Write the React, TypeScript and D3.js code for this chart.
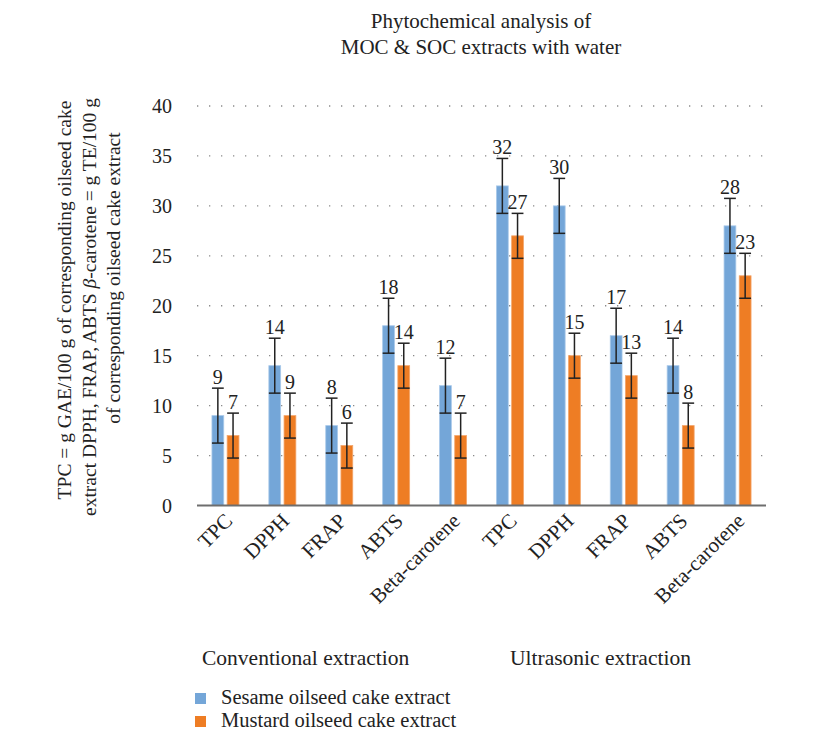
import React from "react";
import * as d3 from "d3";

const categories = ["TPC", "DPPH", "FRAP", "ABTS", "Beta-carotene", "TPC", "DPPH", "FRAP", "ABTS", "Beta-carotene"];
const sesame = [9, 14, 8, 18, 12, 32, 30, 17, 14, 28];
const mustard = [7, 9, 6, 14, 7, 27, 15, 13, 8, 23];
const sesameErr = [2.75, 2.75, 2.75, 2.75, 2.75, 2.75, 2.75, 2.75, 2.75, 2.75];
const mustardErr = [2.25, 2.25, 2.25, 2.25, 2.25, 2.25, 2.25, 2.25, 2.25, 2.25];
const yTicks = [0, 5, 10, 15, 20, 25, 30, 35, 40];
const groupLabels = ["Conventional extraction", "Ultrasonic extraction"];
const seriesNames = ["Sesame oilseed cake extract", "Mustard oilseed cake extract"];

const BLUE = "#74a6d8";
const ORANGE = "#ee7d24";
const FONT = "'Liberation Serif', 'Times New Roman', serif";

export default function App() {
  const W = 833, H = 731;
  const x0 = 197, x1 = 766;
  const y = d3.scaleLinear().domain([0, 40]).range([505.5, 106]);
  const x = d3.scaleBand<number>().domain(categories.map((_, i) => i)).range([x0, x1]).padding(0);
  const bw = 11.8;
  const gap = 3.4;

  const series = [
    { vals: sesame, errs: sesameErr, color: BLUE, stroke: "#a9c9ea", off: -gap / 2 - bw },
    { vals: mustard, errs: mustardErr, color: ORANGE, stroke: "#f3a56a", off: gap / 2 },
  ];

  return (
    <svg width={W} height={H} style={{ position: "absolute", left: 0, top: 0, background: "#fff" }} fontFamily={FONT}>
      <rect x={0} y={0} width={W} height={H} fill="#fff" />
      {/* title */}
      <text x={481} y={28} textAnchor="middle" fontSize={21} fill="#222">Phytochemical analysis of</text>
      <text x={481} y={54} textAnchor="middle" fontSize={21} fill="#222">MOC &amp; SOC extracts with water</text>

      {/* gridlines */}
      {yTicks.filter((t) => t > 0).map((t) => (
        <line key={t} x1={x0} x2={x1 - 3} y1={y(t)} y2={y(t)} stroke="#8a8a8a" strokeWidth={1.3} strokeDasharray="1.3 10.7" />
      ))}
      {/* y tick labels */}
      {yTicks.map((t) => (
        <text key={t} x={172} y={y(t)} dy="0.35em" textAnchor="end" fontSize={20} fill="#222">{t}</text>
      ))}

      {/* bars */}
      {series.map((s, si) =>
        s.vals.map((v, i) => {
          const cx = (x(i) as number) + x.bandwidth() / 2;
          const bx = cx + s.off;
          return (
            <rect key={`b${si}-${i}`} x={bx} y={y(v)} width={bw} height={y(0) - y(v)} fill={s.color} stroke={s.stroke} strokeWidth={0.8} />
          );
        })
      )}
      {/* axis */}
      <line x1={x0} x2={x1} y1={y(0)} y2={y(0)} stroke="#6e6e6e" strokeWidth={2} />
      {/* error bars & labels */}
      {series.map((s, si) =>
        s.vals.map((v, i) => {
          const cx = (x(i) as number) + x.bandwidth() / 2;
          const bc = cx + s.off + bw / 2;
          const top = y(v + s.errs[i]);
          const bot = y(v - s.errs[i]);
          return (
            <g key={`e${si}-${i}`}>
              <line x1={bc} x2={bc} y1={top} y2={bot} stroke="#222" strokeWidth={1.5} />
              <line x1={bc - bw / 2} x2={bc + bw / 2} y1={top} y2={top} stroke="#222" strokeWidth={1.5} />
              <line x1={bc - bw / 2} x2={bc + bw / 2} y1={bot} y2={bot} stroke="#222" strokeWidth={1.5} />
              <text x={bc} y={top - 4} textAnchor="middle" fontSize={20} fill="#222">{v}</text>
            </g>
          );
        })
      )}

      {/* x labels */}
      {categories.map((c, i) => {
        const cx = (x(i) as number) + x.bandwidth() / 2;
        return (
          <text key={`x${i}`} transform={`translate(${cx + 3},${517}) rotate(-45)`} textAnchor="end" dy="0.35em" fontSize={21} fill="#222">{c}</text>
        );
      })}

      {/* group labels */}
      <text x={202} y={665} fontSize={21.5} fill="#222">{groupLabels[0]}</text>
      <text x={510} y={665} fontSize={21.5} fill="#222">{groupLabels[1]}</text>

      {/* legend */}
      <rect x={195} y={693} width={11} height={11} fill={BLUE} />
      <text x={221} y={704} fontSize={20.5} fill="#222">{seriesNames[0]}</text>
      <rect x={195} y={716} width={11} height={11} fill={ORANGE} />
      <text x={221} y={727} fontSize={20.5} fill="#222">{seriesNames[1]}</text>

      {/* y axis title */}
      <g fontSize={19.5} fill="#222">
        <text transform="translate(71,300) rotate(-90)" textAnchor="middle">TPC = g GAE/100 g of corresponding oilseed cake</text>
        <text transform="translate(96,307) rotate(-90)" textAnchor="middle">
          extract DPPH, FRAP, ABTS <tspan fontStyle="italic">β</tspan>-carotene = g TE/100 g
        </text>
        <text transform="translate(120,278) rotate(-90)" textAnchor="middle">of corresponding oilseed cake extract</text>
      </g>
    </svg>
  );
}
